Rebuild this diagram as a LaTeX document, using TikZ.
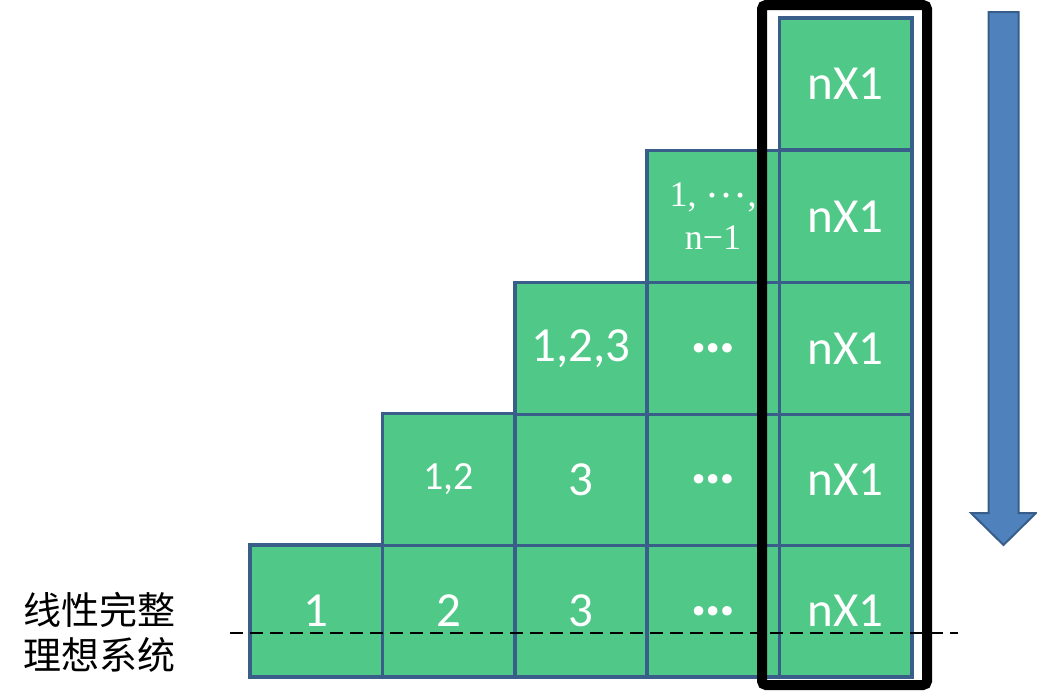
\documentclass[tikz,border=0pt]{standalone}
\usepackage{fontspec}
\setmainfont{Carlito}
\newfontfamily\cjk{Noto Sans CJK SC}
\newfontfamily\serif{Liberation Serif}
\definecolor{cellfill}{RGB}{80,200,136}
\definecolor{cellline}{RGB}{58,94,138}
\definecolor{arrowfill}{RGB}{79,129,189}
\definecolor{arrowline}{RGB}{56,93,138}
\tikzset{
  cell/.style={draw=cellline, line width=3.5pt, fill=cellfill, minimum width=132.5pt, minimum height=132pt, inner sep=0pt, text=white, font=\fontsize{49}{54}\selectfont, anchor=center},
  smallcell/.style={cell, font=\fontsize{40}{44}\selectfont},
  serifcell/.style={cell, font=\serif\fontsize{36}{43}\selectfont, align=center},
  dotcell/.style={cell, font=\bfseries\fontsize{64}{68}\selectfont},
}
\begin{document}
\begin{tikzpicture}[x=1pt,y=-1pt]
\useasboundingbox (0,0) rectangle (1037,697);
% row 5
\node[cell] (c51) at (316,611) {1};
\node[cell] (c52) at (448.5,611) {2};
\node[cell] (c53) at (581,611) {3};
\node[dotcell] (c54) at (713,611) {…};
\node[cell] (c55) at (845.5,611) {nX1};
% row 4
\node[smallcell] (c42) at (448.5,479.5) {1,2};
\node[cell] (c43) at (581,479.5) {3};
\node[dotcell] (c44) at (713,479.5) {…};
\node[cell] (c45) at (845.5,479.5) {nX1};
% row 3
\node[cell] (c33) at (581,348.5) {1,2,3};
\node[dotcell] (c34) at (713,348.5) {…};
\node[cell] (c35) at (845.5,348.5) {nX1};
% row 2
\node[serifcell] (c24) at (713,216.5) {1, \raisebox{0.26em}{\fontsize{42}{43}\selectfont …},\\n−1};
\node[cell] (c25) at (845.5,216.5) {nX1};
% row 1
\node[cell] (c15) at (845.5,84) {nX1};
% dashed line
\coordinate (dl) at (230,633);
\coordinate (dr) at (958,633);
\draw[line width=1.5pt, dash pattern=on 13pt off 7pt] (dl) -- (dr);
% black frame
\draw[line width=10pt, rounded corners=4pt] (762,5) rectangle (927,685);
% arrow
\draw[fill=arrowfill, draw=arrowline, line width=2pt]
  (988.5,12) -- (1018.5,12) -- (1018.5,513) -- (1036,513) -- (1003.5,545) -- (971,513) -- (988.5,513) -- cycle;
% label
\node[font=\cjk\fontsize{38}{45}\selectfont, align=left, anchor=west, inner sep=0pt] (lab) at (23,632) {线性完整\\理想系统};
\end{tikzpicture}
\end{document}
